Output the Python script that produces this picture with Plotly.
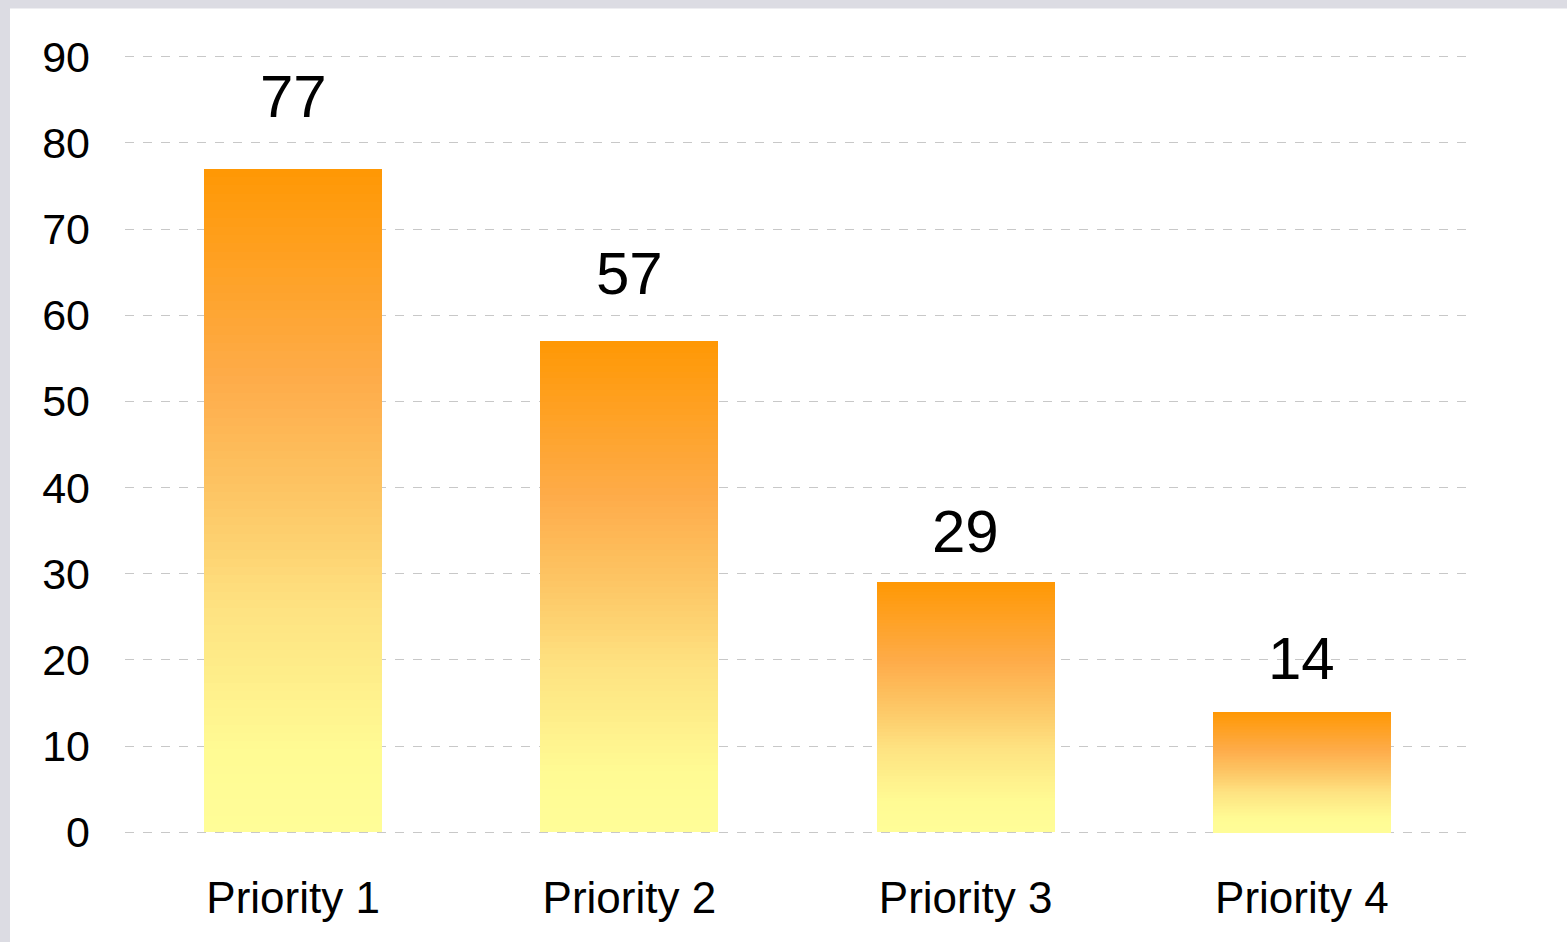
import plotly.graph_objects as go

categories = ["Priority 1", "Priority 2", "Priority 3", "Priority 4"]
values = [77, 57, 29, 14]
y_ticks = [0, 10, 20, 30, 40, 50, 60, 70, 80, 90]

# styling: pixel lift of each value label above its bar
label_lift_px = [37, 32, 15, 18]

# gradient stops (t: 0 = bar bottom, 1 = bar top)
STOPS = [
    (0.0, (255, 253, 152)),
    (0.12, (255, 251, 148)),
    (0.33, (254, 227, 130)),
    (0.5, (253, 199, 102)),
    (0.68, (254, 172, 74)),
    (1.0, (255, 152, 4)),
]
N = 80


def grad_color(t):
    for (t0, c0), (t1, c1) in zip(STOPS[:-1], STOPS[1:]):
        if t <= t1:
            s = (t - t0) / (t1 - t0)
            c = [round(c0[k] + (c1[k] - c0[k]) * s) for k in range(3)]
            return f"rgb({c[0]},{c[1]},{c[2]})"
    c = STOPS[-1][1]
    return f"rgb({c[0]},{c[1]},{c[2]})"


fig = go.Figure()
for i in range(N):
    t = (i + 0.5) / N
    fig.add_trace(go.Bar(
        x=categories,
        y=[v / N for v in values],
        marker=dict(color=grad_color(t), line=dict(width=0)),
        hoverinfo="skip",
        showlegend=False,
    ))

font_family = "Liberation Sans, Arial, sans-serif"

for c, v, lift in zip(categories, values, label_lift_px):
    fig.add_annotation(
        x=c, y=v, text=str(v), showarrow=False,
        yanchor="bottom", yshift=lift,
        font=dict(family=font_family, size=60, color="black"),
    )

# plot area geometry (pixels)
L, R, T, B = 125, 97, 48.4, 101.4
PW = 1567 - L - R
PH = 942 - T - B

# white page panel over a light gray frame
fig.add_shape(
    type="rect", xref="paper", yref="paper",
    x0=(10 - L) / PW, x1=(1600 - L) / PW,
    y0=-(B + 60) / PH, y1=(PH + T - 9) / PH,
    fillcolor="white", line=dict(width=0), layer="below",
)

fig.update_layout(
    width=1567, height=942,
    barmode="stack",
    bargap=0.47,
    paper_bgcolor="#dcdce3",
    plot_bgcolor="rgba(0,0,0,0)",
    margin=dict(l=L, r=R, t=T, b=B, pad=0, autoexpand=False),
    font=dict(family=font_family, color="black"),
    xaxis=dict(
        showgrid=False, showline=False, zeroline=False,
        ticks="", tickfont=dict(size=44),
        ticklabelstandoff=27, automargin=False,
    ),
    yaxis=dict(
        range=[-1, 91], tickvals=y_ticks,
        showgrid=True, gridcolor="#c8c8c8", gridwidth=1, griddash="dash",
        zeroline=False, showline=False, ticks="",
        tickfont=dict(size=43), ticklabelstandoff=34, automargin=False,
    ),
)

fig.write_html(
    "out.html",
    config={"displayModeBar": False},
    post_script="document.body.style.margin='0';document.body.style.overflow='hidden';",
)
